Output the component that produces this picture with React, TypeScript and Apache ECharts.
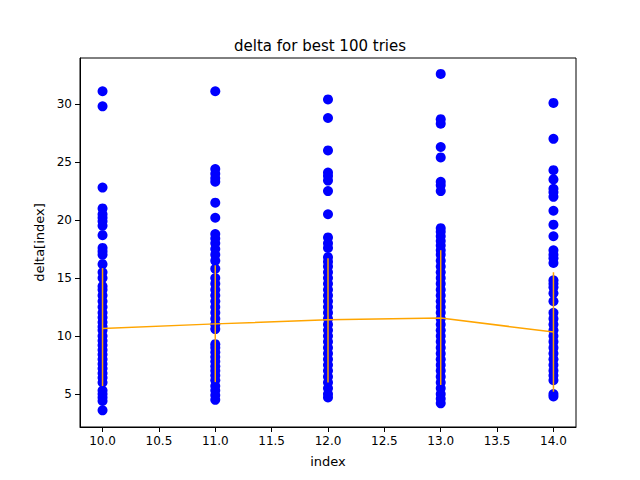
import React, { useEffect, useRef } from "react";
import * as echarts from "echarts";

const xs = [10, 11, 12, 13, 14];
const col10 = [31.1, 29.8, 22.8, 21.0, 20.5, 20.2, 19.9, 19.5, 18.7, 17.6, 17.3, 17.0, 16.2, 15.5, 15.0, 14.3, 14.0, 13.5, 13.0, 12.5, 12.0, 11.6, 11.2, 10.8, 10.5, 10.0, 9.6, 9.2, 8.8, 8.4, 8.0, 7.6, 7.2, 6.8, 6.4, 6.0, 5.3, 5.0, 4.7, 4.4, 3.6];
const col11 = [31.1, 24.4, 24.0, 23.6, 23.3, 21.5, 20.2, 18.8, 18.4, 18.0, 17.5, 17.0, 16.5, 15.8, 15.0, 14.5, 14.0, 13.5, 13.0, 12.5, 12.0, 11.5, 11.0, 10.6, 9.3, 9.0, 8.6, 8.2, 7.8, 7.4, 7.0, 6.6, 6.2, 5.7, 5.3, 4.9, 4.5];
const col12 = [30.4, 28.8, 26.0, 24.1, 23.8, 23.4, 22.5, 20.5, 18.5, 18.0, 17.6, 16.8, 16.4, 16.0, 15.5, 15.0, 14.5, 14.0, 13.5, 13.0, 12.5, 12.0, 11.5, 11.0, 10.5, 10.0, 9.5, 9.0, 8.5, 8.0, 7.5, 7.0, 6.5, 6.0, 5.5, 5.0, 4.7];
const col13 = [32.6, 28.7, 28.3, 26.3, 25.4, 23.3, 23.0, 22.5, 19.3, 19.0, 18.6, 18.2, 17.8, 17.4, 17.0, 16.5, 16.0, 15.5, 15.0, 14.5, 14.0, 13.5, 13.0, 12.5, 12.0, 11.5, 11.0, 10.5, 10.0, 9.5, 9.0, 8.5, 8.0, 7.5, 7.0, 6.5, 6.0, 5.5, 5.0, 4.6, 4.2];
const col14 = [30.1, 27.0, 24.3, 23.5, 22.7, 22.4, 22.0, 20.8, 19.6, 18.6, 17.4, 17.0, 16.7, 16.3, 14.8, 14.5, 14.2, 13.7, 13.0, 12.0, 11.5, 11.0, 10.5, 10.0, 9.5, 9.0, 8.5, 8.0, 7.5, 7.0, 6.6, 6.2, 5.0, 4.8];
const cols = [col10, col11, col12, col13, col14];
const means = [10.65, 11.05, 11.4, 11.55, 10.35];
const lows = [5.69, 6.03, 6.0, 5.78, 5.2];
const highs = [15.86, 16.1, 16.7, 17.4, 15.5];
const xTicks = [10, 10.5, 11, 11.5, 12, 12.5, 13, 13.5, 14];
const yTicks = [5, 10, 15, 20, 25, 30];

export default function App() {
  const ref = useRef<HTMLDivElement>(null);
  useEffect(() => {
    const chart = echarts.init(ref.current!, null, { renderer: "svg" });
    const scatter: number[][] = [];
    cols.forEach((c, i) => c.forEach((v) => scatter.push([xs[i], v])));
    const font = "DejaVu Sans";
    chart.setOption({
      animation: false,
      textStyle: { fontFamily: font },
      title: { text: "delta for best 100 tries", left: "center", top: 33, textStyle: { fontFamily: font, fontSize: 15, fontWeight: "normal", color: "#000" } },
      grid: { left: 80, right: 64, top: 58, bottom: 53, show: true, borderColor: "#000", borderWidth: 1 },
      xAxis: {
        type: "value", min: 9.8, max: 14.2, name: "index", nameLocation: "middle", nameGap: 28,
        nameTextStyle: { fontSize: 13, color: "#000" },
        splitLine: { show: false },
        axisLine: { show: true, onZero: false, lineStyle: { color: "#000" } },
        axisTick: { show: true, length: 5, lineStyle: { color: "#000" }, customValues: xTicks },
        axisLabel: { color: "#000", fontSize: 12, customValues: xTicks, formatter: (v: number) => v.toFixed(1) },
      },
      yAxis: {
        type: "value", min: 2.16, max: 33.97, name: "delta[index]", nameLocation: "middle", nameGap: 34,
        nameTextStyle: { fontSize: 13, color: "#000" },
        splitLine: { show: false },
        axisLine: { show: true, onZero: false, lineStyle: { color: "#000" } },
        axisTick: { show: true, length: 5, lineStyle: { color: "#000" }, customValues: yTicks },
        axisLabel: { color: "#000", fontSize: 12, customValues: yTicks },
      },
      series: [
        { type: "scatter", data: scatter, symbolSize: 10, itemStyle: { color: "#0000ff", opacity: 1 }, z: 2 },
        {
          type: "custom", z: 3,
          data: xs.map((x, i) => [x, lows[i], highs[i]]),
          renderItem: (params: any, api: any) => {
            const a = api.coord([api.value(0), api.value(1)]);
            const b = api.coord([api.value(0), api.value(2)]);
            return { type: "line", shape: { x1: a[0], y1: a[1], x2: b[0], y2: b[1] }, style: { stroke: "#ffa500", lineWidth: 1.5 } };
          },
        },
        { type: "line", data: xs.map((x, i) => [x, means[i]]), symbol: "none", lineStyle: { color: "#ffa500", width: 1.5 }, z: 4 },
      ],
    });
    return () => chart.dispose();
  }, []);
  return <div ref={ref} style={{ width: 640, height: 480, position: "absolute", left: 0, top: 0 }} />;
}
